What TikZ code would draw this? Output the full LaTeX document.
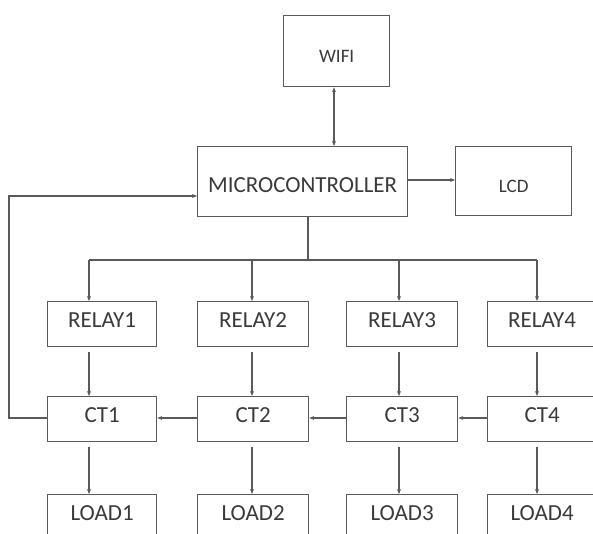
\documentclass[tikz,border=0pt]{standalone}
\usepackage{fontspec}
\setmainfont{Carlito}
\usetikzlibrary{arrows.meta}
\definecolor{lc}{HTML}{5A5A5A}
\definecolor{tc}{HTML}{3A3A3A}
\tikzset{
  blk/.style={draw=lc, line width=1.3pt, text=tc, inner sep=0pt, anchor=north west},
  conn/.style={draw=lc, line width=1.1pt, -{Stealth[length=5pt,width=4pt]}},
  bigtxt/.style={font=\fontsize{23}{25}\selectfont},
  smalltxt/.style={font=\fontsize{19}{21}\selectfont},
  up/.style={text height=15pt, text depth=8pt},
  down/.style={text height=22pt, text depth=0pt}
}
\begin{document}
\begin{tikzpicture}[x=1pt,y=-1pt]
\useasboundingbox (0,0) rectangle (593,534);
% top
\node[blk,smalltxt,down,minimum width=106pt,minimum height=71pt] (wifi) at (283,15) {WIFI};
\node[blk,bigtxt,down,minimum width=210pt,minimum height=70pt] (mc) at (197,146) {MICROCONTROLLER};
\node[blk,smalltxt,down,minimum width=116pt,minimum height=69pt] (lcd) at (455,146) {LCD};
% relays
\node[blk,bigtxt,up,minimum width=109pt,minimum height=45pt] (r1) at (47,301) {RELAY1};
\node[blk,bigtxt,up,minimum width=111pt,minimum height=45pt] (r2) at (197,301) {RELAY2};
\node[blk,bigtxt,up,minimum width=111pt,minimum height=45pt] (r3) at (346,301) {RELAY3};
\node[blk,bigtxt,up,minimum width=109pt,minimum height=45pt] (r4) at (487,301) {RELAY4};
% CTs
\node[blk,bigtxt,up,minimum width=109pt,minimum height=45pt] (c1) at (47,396) {CT1};
\node[blk,bigtxt,up,minimum width=111pt,minimum height=45pt] (c2) at (197,396) {CT2};
\node[blk,bigtxt,up,minimum width=111pt,minimum height=45pt] (c3) at (346,396) {CT3};
\node[blk,bigtxt,up,minimum width=109pt,minimum height=45pt] (c4) at (487,396) {CT4};
% loads
\node[blk,bigtxt,up,minimum width=109pt,minimum height=45pt] (l1) at (47,494) {LOAD1};
\node[blk,bigtxt,up,minimum width=111pt,minimum height=45pt] (l2) at (197,494) {LOAD2};
\node[blk,bigtxt,up,minimum width=111pt,minimum height=45pt] (l3) at (346,494) {LOAD3};
\node[blk,bigtxt,up,minimum width=109pt,minimum height=45pt] (l4) at (487,494) {LOAD4};
% coordinates
\coordinate (bus) at (308,260);
\coordinate (fb1) at (9,418);
\coordinate (fb2) at (9,196);
% connectors
\draw[conn,{Stealth[length=5pt,width=4pt]}-{Stealth[length=5pt,width=4pt]}] (wifi.south -| 334,0) -- (mc.north -| 334,0);
\draw[conn] (mc.east |- 0,180) -- (lcd.west |- 0,180);
\draw[draw=lc,line width=1.1pt] (mc.south -| bus) -- (bus);
\draw[draw=lc,line width=1.1pt] (89,260) -- (537,260);
\draw[conn] (89,260) -- (r1.north -| 89,0);
\draw[conn] (252,260) -- (r2.north -| 252,0);
\draw[conn] (399,260) -- (r3.north -| 399,0);
\draw[conn] (537,260) -- (r4.north -| 537,0);
% relay -> CT
\draw[conn] ([yshift=-5pt]r1.south -| 89,0) -- (c1.north -| 89,0);
\draw[conn] ([yshift=-5pt]r2.south -| 252,0) -- (c2.north -| 252,0);
\draw[conn] ([yshift=-5pt]r3.south -| 399,0) -- (c3.north -| 399,0);
\draw[conn] ([yshift=-5pt]r4.south -| 537,0) -- (c4.north -| 537,0);
% CT -> load
\draw[conn] ([yshift=-5pt]c1.south -| 89,0) -- (l1.north -| 89,0);
\draw[conn] ([yshift=-5pt]c2.south -| 252,0) -- (l2.north -| 252,0);
\draw[conn] ([yshift=-5pt]c3.south -| 399,0) -- (l3.north -| 399,0);
\draw[conn] ([yshift=-5pt]c4.south -| 537,0) -- (l4.north -| 537,0);
% CT chain
\draw[conn] (c2.west |- 0,418) -- (c1.east |- 0,418);
\draw[conn] (c3.west |- 0,418) -- (c2.east |- 0,418);
\draw[conn] (c4.west |- 0,418) -- (c3.east |- 0,418);
% feedback
\draw[conn] (c1.west |- fb1) -- (fb1) -- (fb2) -- (mc.west |- fb2);
\end{tikzpicture}
\end{document}
